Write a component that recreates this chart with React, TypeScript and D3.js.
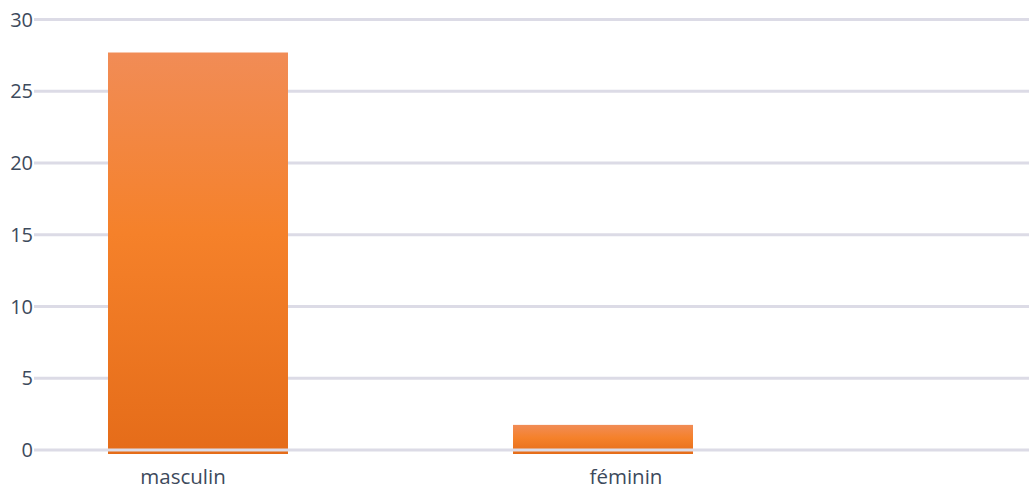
import * as d3 from 'd3'

const categories = ['masculin', 'féminin']
const counts = [27.7, 1.75]
const yTicks = [0, 5, 10, 15, 20, 25, 30]

const width = 1029
const height = 491

export default function App() {
  const y = d3.scaleLinear().domain([0, 30]).range([450, 19.5])
  const xBar = d3.scaleBand<string>().domain(categories).range([108, 693]).paddingInner(0.5556).paddingOuter(0)
  const xLabel = d3.scalePoint<string>().domain(categories).range([183, 626])

  return (
    <svg
      width={width}
      height={height}
      style={{position: 'absolute', left: 0, top: 0}}
      fontFamily={'Open Sans'}
    >
      <defs>
        <linearGradient id="barFill" x1={0} y1={0} x2={0} y2={1}>
          <stop offset="0%" stopColor="#f18c56" />
          <stop offset="45%" stopColor="#f5812a" />
          <stop offset="100%" stopColor="#e56c19" />
        </linearGradient>
      </defs>
      {/* grid behind bars */}
      {yTicks.filter(t => t !== 0).map(t => (
        <line key={t} x1={34} x2={width} y1={y(t)} y2={y(t)} stroke="#dcdbe6" strokeWidth={3} />
      ))}
      {categories.map((c, i) => (
        <rect
          key={c}
          x={xBar(c)}
          y={y(counts[i])}
          width={xBar.bandwidth()}
          height={y(0) + 4 - y(counts[i])}
          fill="url(#barFill)"
        />
      ))}
      {/* zero line sits on top of the bars */}
      <line x1={34} x2={width} y1={y(0)} y2={y(0)} stroke="#dcdbe6" strokeWidth={3} />
      {yTicks.map(t => (
        <text key={t} x={33} y={y(t)} dy="0.36em" textAnchor="end" fontSize={20} fill="#3d4a5c">
          {t}
        </text>
      ))}
      {categories.map(c => (
        <text key={c} x={xLabel(c)} y={484} textAnchor="middle" fontSize={20.5} fill="#3d4a5c">
          {c}
        </text>
      ))}
    </svg>
  )
}
